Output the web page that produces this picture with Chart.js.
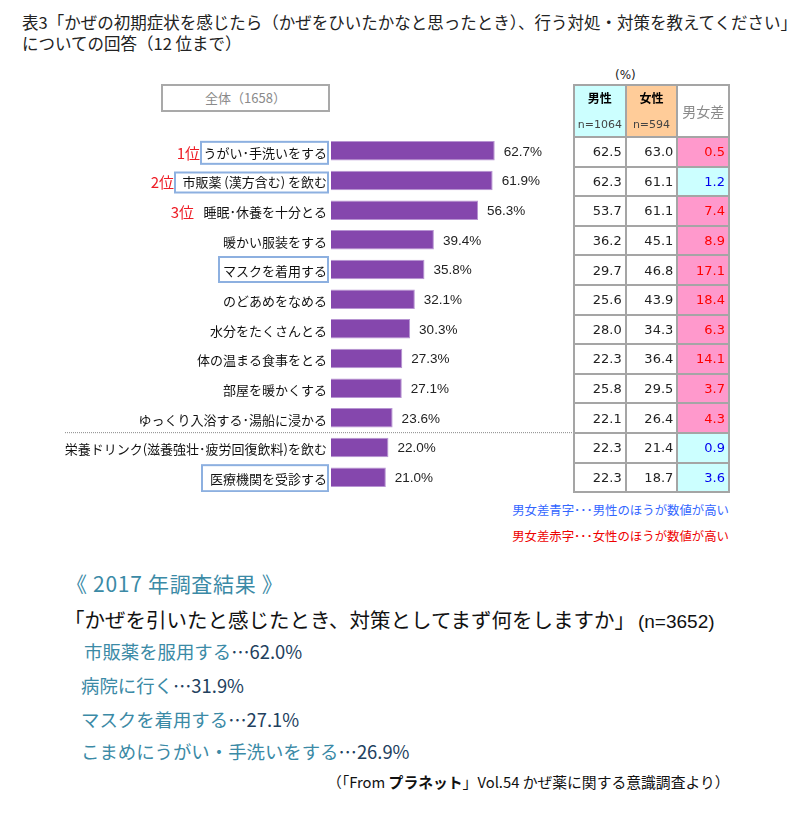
<!DOCTYPE html>
<html lang="ja">
<head>
<meta charset="utf-8">
<script src="https://cdn.jsdelivr.net/npm/chart.js@4"></script>
<style>
    html, body { margin: 0; padding: 0; background: #fff; }
    body { width: 810px; height: 824px; position: relative; overflow: hidden; font-family: "Noto Sans CJK JP", sans-serif; color: #222; }
    .t { position: absolute; white-space: nowrap; line-height: 1; }
    #myChart { position: absolute; left: 0; top: 136px; }
    #total { position: absolute; left: 161px; top: 84px; width: 165px; height: 24px; border: 2px solid #a9a9a9; color: #8a8a8a; font-size: 13px; line-height: 24px; text-align: center; }
    #tbl { position: absolute; left: 573px; top: 84px; width: 157px; border-collapse: collapse; table-layout: fixed; font-family: "DejaVu Sans", sans-serif; font-size: 13px; }
    #tbl td { border: 2px solid #a5a5a5; padding: 0 3px 0 0; text-align: right; height: 27.6px; box-sizing: content-box; color: #222; }
    #tbl td.head { height: 50px; padding: 0; text-align: center; font-size: 11px; line-height: 1; color: #444; vertical-align: top; }
    #tbl td.head b { display: block; font-family: "Noto Sans CJK JP"; font-size: 12px; color: #000; margin: 6px 0 15px; }
    #tbl td.head.diff { vertical-align: middle; font-family: "Noto Sans CJK JP"; font-size: 14px; color: #8a8a8a; }
    .teal { color: #3b8aa6; }
    .navy { color: #22405e; }
</style>
</head>
<body>
<div class="t" style="left:22px;top:14px;font-size:16.5px">表3「かぜの初期症状を感じたら（かぜをひいたかなと思ったとき）、行う対処・対策を教えてください」</div>
<div class="t" style="left:22px;top:35px;font-size:16.5px">についての回答（12 位まで）</div>
<div id="total">全体（1658）</div>
<div class="t" style="left:615px;top:69px;font-size:12px;font-family:'DejaVu Sans'">(%)</div>
<canvas id="myChart" width="575" height="356"></canvas>
<table id="tbl"></table>
<div class="t" style="right:81px;top:504px;font-size:12.4px;color:#3366ff">男女差青字･･･男性のほうが数値が高い</div>
<div class="t" style="right:81px;top:530px;font-size:12.4px;color:#ee0000">男女差赤字･･･女性のほうが数値が高い</div>
<div class="t teal" style="left:66px;top:573px;font-size:21px;letter-spacing:.7px">《 2017 年調査結果 》</div>
<div class="t" style="left:64px;top:609px;font-size:20.5px;color:#111">「かぜを引いたと感じたとき、対策としてまず何をしますか」<span style="font-size:19px;font-family:'Liberation Sans';margin-left:3px">(n=3652)</span></div>
<div class="t teal" style="left:84px;top:642px;font-size:18.4px">市販薬を服用する<span class="navy">…62.0%</span></div>
<div class="t teal" style="left:81px;top:676px;font-size:18.4px">病院に行く<span class="navy">…31.9%</span></div>
<div class="t teal" style="left:81px;top:710px;font-size:18.4px">マスクを着用する<span class="navy">…27.1%</span></div>
<div class="t teal" style="left:81px;top:742px;font-size:18.4px">こまめにうがい・手洗いをする<span class="navy">…26.9%</span></div>
<div class="t" style="left:327px;top:775px;font-size:14.8px;color:#111">（「From <b>プラネット</b>」Vol.54 かぜ薬に関する意識調査より）</div>
<script>
    const rows = [
        { label: 'うがい･手洗いをする', all: 62.7, male: 62.5, female: 63.0, diff: 0.5, rank: '1位', box: { left: 201, dy: 2, h: 22 } },
        { label: '市販薬 (漢方含む) を飲む', all: 61.9, male: 62.3, female: 61.1, diff: 1.2, rank: '2位', box: { left: 175, dy: 2, h: 20 } },
        { label: '睡眠･休養を十分とる', all: 56.3, male: 53.7, female: 61.1, diff: 7.4, rank: '3位' },
        { label: '暖かい服装をする', all: 39.4, male: 36.2, female: 45.1, diff: 8.9 },
        { label: 'マスクを着用する', all: 35.8, male: 29.7, female: 46.8, diff: 17.1, box: { left: 219, dy: 0, h: 25 } },
        { label: 'のどあめをなめる', all: 32.1, male: 25.6, female: 43.9, diff: 18.4 },
        { label: '水分をたくさんとる', all: 30.3, male: 28.0, female: 34.3, diff: 6.3 },
        { label: '体の温まる食事をとる', all: 27.3, male: 22.3, female: 36.4, diff: 14.1 },
        { label: '部屋を暖かくする', all: 27.1, male: 25.8, female: 29.5, diff: 3.7 },
        { label: 'ゆっくり入浴する･湯船に浸かる', all: 23.6, male: 22.1, female: 26.4, diff: 4.3 },
        { label: '栄養ドリンク(滋養強壮･疲労回復飲料)を飲む', all: 22.0, male: 22.3, female: 21.4, diff: 0.9 },
        { label: '医療機関を受診する', all: 21.0, male: 22.3, female: 18.7, diff: 3.6, box: { left: 202, dy: 1, h: 26 } }
    ];

    // table on the right
    let html = '<tr><td class="head" style="background:#ccffff"><b>男性</b>n=1064</td>'
        + '<td class="head" style="background:#ffcc99"><b>女性</b>n=594</td>'
        + '<td class="head diff">男女差</td></tr>';
    rows.forEach(function (r) {
        const femaleHigher = r.female > r.male;
        html += '<tr><td>' + r.male.toFixed(1) + '</td><td>' + r.female.toFixed(1) + '</td>'
            + '<td style="background:' + (femaleHigher ? '#ff99cc' : '#ccffff') + ';color:' + (femaleHigher ? '#ff0000' : '#0000ee') + '">'
            + r.diff.toFixed(1) + '</td></tr>';
    });
    document.getElementById('tbl').innerHTML = html;

    // labels, boxes and the dotted line
    const decorations = {
        id: 'decorations',
        afterDatasetsDraw(chart) {
            const ctx = chart.ctx;
            const bars = chart.getDatasetMeta(0).data;
            ctx.save();
            ctx.textBaseline = 'middle';
            rows.forEach(function (r, i) {
                const y = bars[i].y;
                ctx.font = '13.5px "Liberation Sans"';
                ctx.fillStyle = '#222';
                ctx.textAlign = 'left';
                ctx.fillText(r.all.toFixed(1) + '%', bars[i].x + 9, y + 1);
                if (r.box) {
                    ctx.strokeStyle = '#8db0e0';
                    ctx.lineWidth = 2;
                    ctx.strokeRect(r.box.left, y + r.box.dy - r.box.h / 2, 328 - r.box.left, r.box.h);
                }
                if (r.rank) {
                    ctx.font = '15px "Noto Sans CJK JP"';
                    ctx.fillStyle = '#ee1c25';
                    ctx.textAlign = 'right';
                    const right = r.box ? r.box.left - 1 : 194;
                    ctx.fillText(r.rank, right, y + 2);
                }
            });
            const lineY = (bars[9].y + bars[10].y) / 2;
            ctx.strokeStyle = '#888';
            ctx.lineWidth = 1;
            ctx.setLineDash([1, 1]);
            ctx.beginPath();
            ctx.moveTo(65, lineY);
            ctx.lineTo(574, lineY);
            ctx.stroke();
            ctx.restore();
        }
    };

    new Chart(document.getElementById('myChart'), {
        type: 'bar',
        data: {
            labels: rows.map(function (r) { return r.label; }),
            datasets: [{
                data: rows.map(function (r) { return r.all; }),
                backgroundColor: '#8547ad',
                borderColor: '#b794d2',
                borderWidth: 1,
                categoryPercentage: 1,
                barPercentage: 0.66
            }]
        },
        options: {
            indexAxis: 'y',
            responsive: false,
            animation: false,
            devicePixelRatio: 1,
            layout: { padding: { right: 9 } },
            plugins: { legend: { display: false }, tooltip: { enabled: false } },
            scales: {
                x: { display: false, min: 0, max: 90 },
                y: {
                    afterFit(scale) {
                        scale.width = 331;
                        scale.paddingTop = 0;
                        scale.paddingBottom = 0;
                    },
                    grid: { display: false, drawTicks: false },
                    border: { display: false },
                    ticks: {
                        autoSkip: false,
                        padding: 4,
                        labelOffset: 2,
                        color: '#111',
                        font: { family: '"Noto Sans CJK JP"', size: 13 }
                    }
                }
            }
        },
        plugins: [decorations]
    });
</script>
</body>
</html>
